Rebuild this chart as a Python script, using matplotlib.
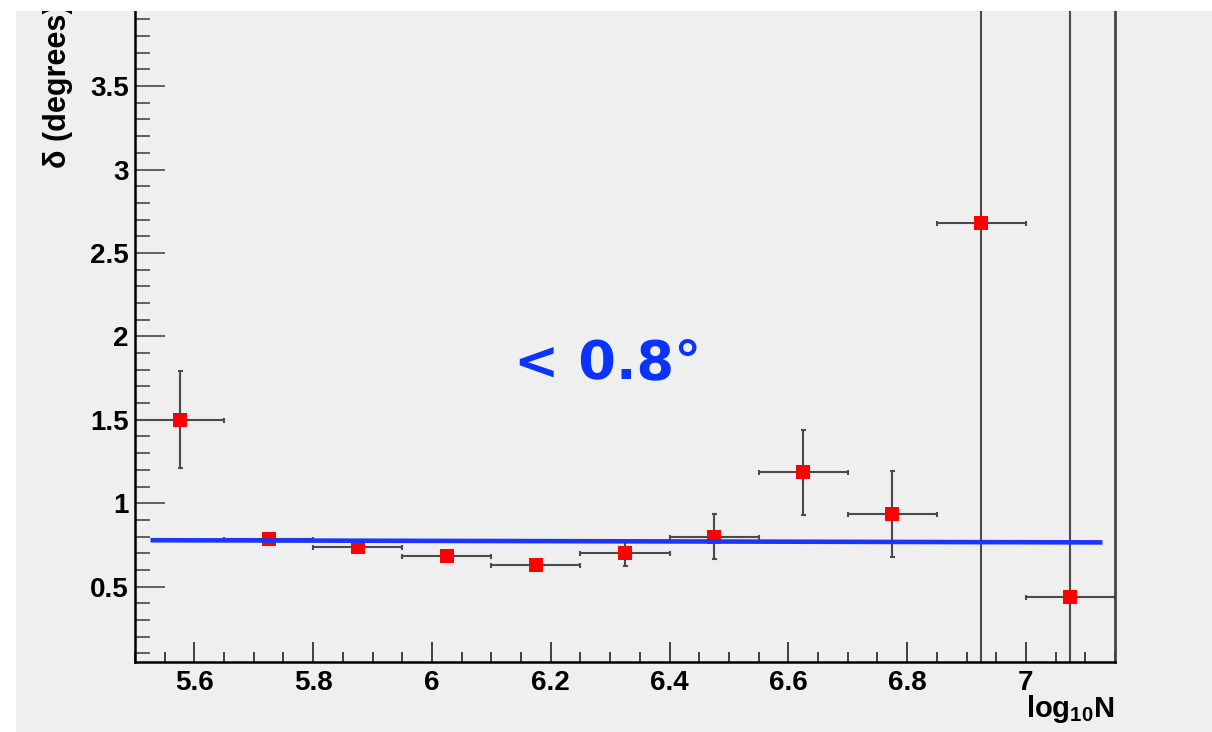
import numpy as np
import matplotlib
matplotlib.use('Agg')
import matplotlib.pyplot as plt
from matplotlib.ticker import MultipleLocator, FuncFormatter
from matplotlib.patches import Rectangle

# Data (bin centres in log10 N, width 0.15)
log_n = [5.575, 5.725, 5.875, 6.025, 6.175, 6.325, 6.475, 6.625, 6.775, 6.925, 7.075]
delta = [1.50, 0.785, 0.735, 0.685, 0.630, 0.700, 0.800, 1.185, 0.935, 2.68, 0.435]
delta_err = [0.29, 0.03, 0.02, 0.01, 0.01, 0.075, 0.135, 0.255, 0.26, 4.0, 4.0]
bin_half_width = [0.075] * 11

# Fit line end points
fit_x = [5.53, 7.125]
fit_y = [0.778, 0.765]

plt.rcParams['font.family'] = ['Liberation Sans', 'DejaVu Sans']
plt.rcParams['font.weight'] = 'bold'
plt.rcParams['mathtext.fontset'] = 'custom'
plt.rcParams['mathtext.bf'] = 'Liberation Sans:bold'
plt.rcParams['mathtext.rm'] = 'Liberation Sans:bold'
plt.rcParams['mathtext.default'] = 'bf'

W, H = 1212, 732
fig = plt.figure(figsize=(W / 100, H / 100), dpi=100, facecolor='#efefef')

# white strips on the left and top edges
fig.add_artist(Rectangle((0, 0), 16 / W, 1, transform=fig.transFigure,
                         facecolor='white', edgecolor='none', zorder=10))
fig.add_artist(Rectangle((0, 1 - 11 / H), 1, 11 / H, transform=fig.transFigure,
                         facecolor='white', edgecolor='none', zorder=10))

ax = fig.add_axes([135 / W, 1 - 661.7 / H, (1115 - 135) / W, (661.7 - 11) / H])
ax.set_facecolor('#efefef')

ax.errorbar(log_n, delta, xerr=bin_half_width, yerr=delta_err, fmt='none',
            ecolor='#4a4a4a', elinewidth=1.5, capsize=1.8, capthick=1.5, zorder=2)
ax.plot(log_n, delta, 's', color='#ff0000', markersize=9.5, markeredgewidth=0, zorder=3)
ax.plot(fit_x, fit_y, color='#1a35ff', linewidth=3.3, zorder=4)

ax.text(6.296, 1.84, '< 0.8°', color='#0a33ff', fontsize=39, fontweight='bold',
        family='DejaVu Sans', ha='center', va='center')

ax.set_xlim(5.5, 7.15)
ax.set_ylim(0.05, 3.95)

ax.xaxis.set_major_locator(MultipleLocator(0.2))
ax.xaxis.set_minor_locator(MultipleLocator(0.05))
ax.yaxis.set_major_locator(MultipleLocator(0.5))
ax.yaxis.set_minor_locator(MultipleLocator(0.1))
fmt = FuncFormatter(lambda v, p: '%g' % round(v, 2))
ax.xaxis.set_major_formatter(fmt)
ax.yaxis.set_major_formatter(fmt)

ax.tick_params(axis='x', which='major', direction='in', length=14.4, width=1.3,
               color='#333333', pad=6, labelsize=20)
ax.tick_params(axis='x', which='minor', direction='in', length=7.2, width=1.3, color='#333333')
ax.tick_params(axis='y', which='major', direction='in', length=21.6, width=1.3,
               color='#555555', pad=4.5, labelsize=20)
ax.tick_params(axis='y', which='minor', direction='in', length=10.8, width=1.3, color='#555555')
ax.tick_params(top=False, right=False, which='both')

for side in ['left', 'bottom']:
    ax.spines[side].set_linewidth(1.8)
    ax.spines[side].set_color('black')
ax.spines['right'].set_linewidth(2.0)
ax.spines['right'].set_color('#444444')
ax.spines['top'].set_visible(False)

# axis titles, ROOT style (aligned to the axis ends, top one partly cut)
fig.text(58 / W, 1 - 4 / H, 'δ (degrees)', rotation=90, fontsize=22, fontweight='bold',
         ha='center', va='top', family=['Liberation Sans', 'DejaVu Sans'])
fig.text(1115 / W, 1 - 717 / H, r'$log_{10}N$', fontsize=21, ha='right', va='baseline')

plt.savefig('out.png', dpi=100, facecolor=fig.get_facecolor())
